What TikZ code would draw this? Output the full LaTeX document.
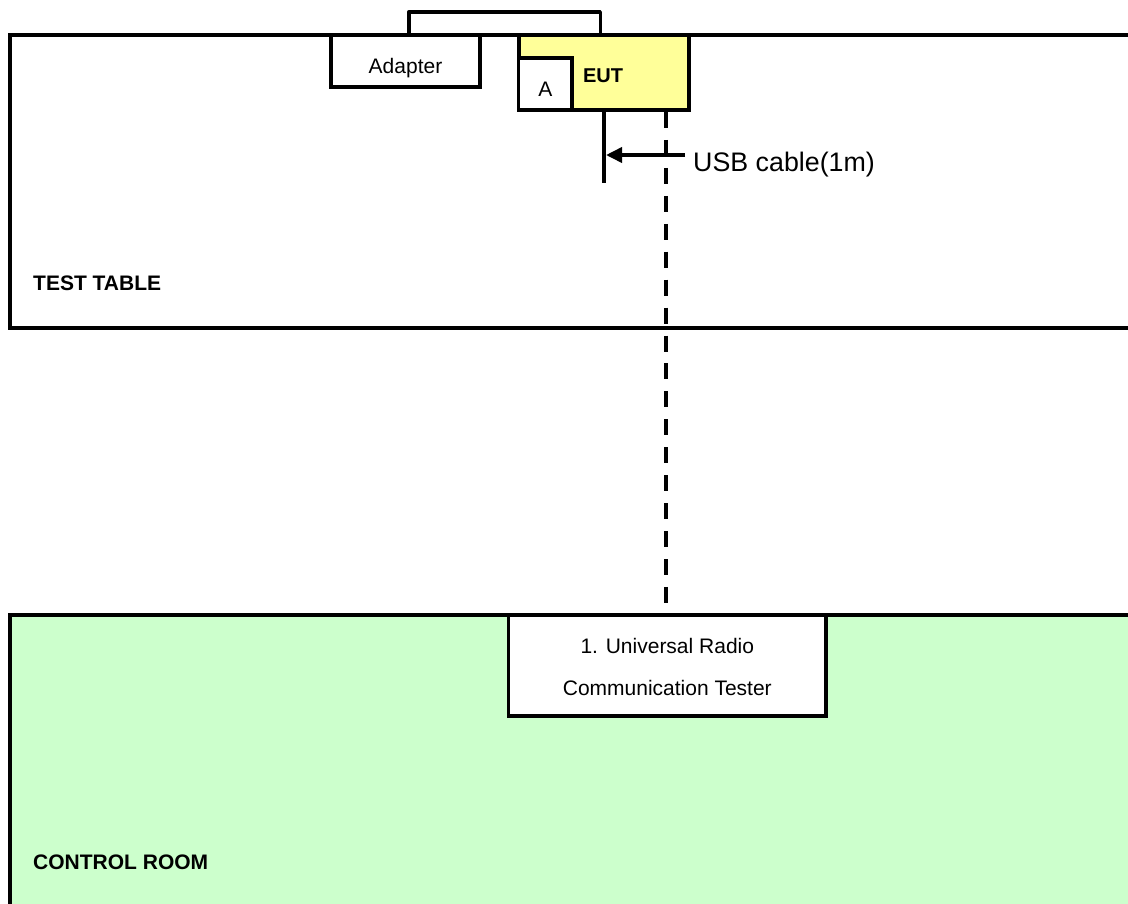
\documentclass[tikz,border=0pt]{standalone}
\usepackage{fontspec}
\setmainfont{Liberation Sans}
\usetikzlibrary{arrows.meta}
\newcommand{\fs}[1]{\fontsize{#1}{#1}\selectfont}
\definecolor{euty}{HTML}{FFFF99}
\definecolor{roomg}{HTML}{CCFFCC}
\tikzset{
 wire/.style={line width=3.6pt,black,line cap=butt},
 zone/.style={draw=black,line width=3.6pt,inner sep=0pt,outer sep=0pt,anchor=north west},
 unitbox/.style={draw=black,fill=white,line width=3.6pt,inner sep=0pt,font=\fs{21}},
 caption/.style={inner sep=0pt,anchor=base west,font=\bfseries\fs{21}},
 dashwire/.style={wire,dash pattern=on 16pt off 11.94pt},
}
\begin{document}
\begin{tikzpicture}[x=1pt,y=-1pt]
\useasboundingbox (0,0) rectangle (1128,903);
\clip (0,0) rectangle (1128,903);
\fill[white] (0,0) rectangle (1128,903);
% zones
\node[zone,minimum width=1200pt,minimum height=293pt] (table) at (10,35) {};
\node[zone,fill=roomg,minimum width=1200pt,minimum height=400pt] (room) at (10,615) {};
\node[caption] (tablecap) at (33,290) {TEST TABLE};
\node[caption] (roomcap) at (33,869) {CONTROL ROOM};
% connectors behind the units
\coordinate (loopa) at (408.7,35);
\coordinate (loopb) at (600.3,35);
\draw[wire,line join=round] (loopa) -- (408.7,12) -- (600.3,12) -- (loopb);
% units
\node[unitbox,minimum width=149pt,minimum height=52pt,text height=25pt,text depth=0pt] (adapter) at (405.5,61) {Adapter};
\node[unitbox,fill=euty,minimum width=170pt,minimum height=75pt,text height=19pt,text depth=0pt,font=\bfseries\fs{20}] (eut) at (604,72.5) {\hspace*{-2pt}EUT};
\node[unitbox,minimum width=53.5pt,minimum height=52pt,text height=25pt,text depth=0pt] (a) at (545.25,84) {A};
\node[unitbox,minimum width=317.5pt,minimum height=101pt,align=center] (tester) at (667.3,665.5) {\rule{0pt}{18pt}1. Universal Radio\\[21pt]Communication Tester};
\node[inner sep=0pt,anchor=base west,font=\fs{26.8}] (usb) at (693,171) {USB cable(1m)};
\coordinate (solidtop) at (604,110);
\coordinate (solidend) at (604,183);
\coordinate (dashtop) at (666,112);
\coordinate (dashend) at (666,603);
\coordinate (arrowtip) at (606,155);
\coordinate (arrowtail) at (685,155);
\draw[wire] (solidtop) -- (solidend);
\draw[dashwire] (dashtop) -- (dashend);
\draw[wire,-{Triangle[length=16pt,width=15pt]}] (arrowtail) -- (arrowtip);
\end{tikzpicture}
\end{document}
